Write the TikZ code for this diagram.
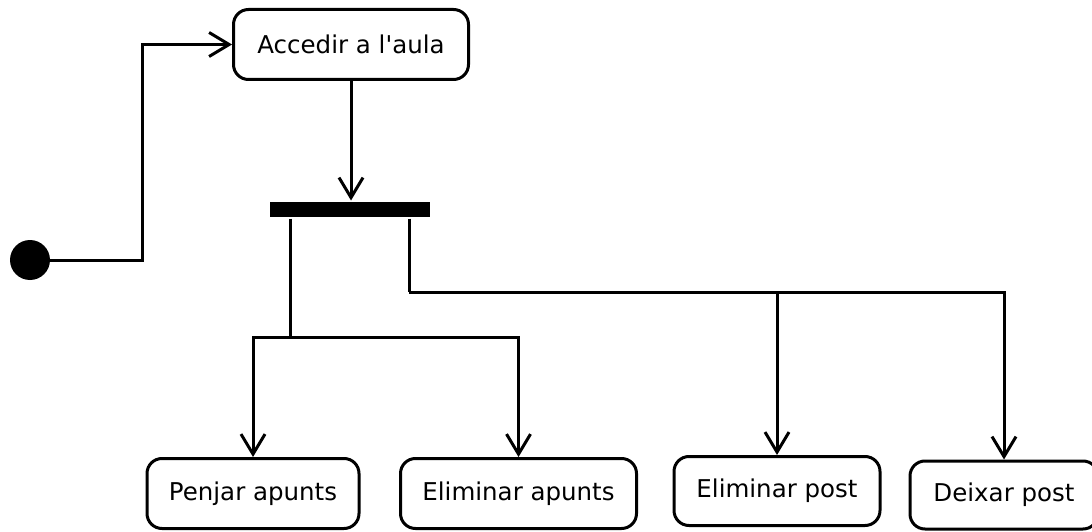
\documentclass[tikz,border=0pt]{standalone}
\usepackage{fontspec}
\setmainfont{DejaVu Sans}
\usetikzlibrary{arrows.meta}
\begin{document}
\begin{tikzpicture}[x=1pt,y=-1pt,
  line width=3pt,
  action/.style={draw, rounded corners=15pt, inner sep=0pt,
    font=\fontsize{24.5}{29}\selectfont},
  arr/.style={-{Straight Barb[length=20pt,width=24pt,line width=3pt]}},
  forkbar/.style={fill=black, draw=none, inner sep=0pt, minimum width=160pt, minimum height=15pt}]
  \useasboundingbox (0,0) rectangle (1092,532);

  % initial state
  \node[circle, fill=black, inner sep=0pt, minimum size=40pt] (init) at (30,260) {};

  % actions
  \node[action, minimum width=235pt, minimum height=70pt] (acc) at (351,44.5) {Accedir a l\textquotesingle aula};
  \node[action, minimum width=212pt, minimum height=70pt] (pa) at (253,493.5) {Penjar apunts};
  \node[action, minimum width=236pt, minimum height=70pt] (ea) at (518.5,493.5) {Eliminar apunts};
  \node[action, minimum width=206pt, minimum height=69pt] (ep) at (777,491) {Eliminar post};
  \node[action, minimum width=188pt, minimum height=68pt] (dp) at (1004,495) {Deixar post};

  % fork bar
  \node[forkbar] (bar) at (350,209.5) {};

  % junction points
  \coordinate (c1) at (142,260);
  \coordinate (j1) at (290,337);
  \coordinate (j2) at (409,292);

  % flows
  \draw[arr] (init.center) -- (c1) |- (acc.west);
  \draw[arr] (acc.south) -- (acc.south |- bar.north);
  \draw (bar.south -| j1) -- (j1);
  \draw[arr] (j1) -| (pa.north);
  \draw[arr] (j1) -| (ea.north);
  \draw (bar.south -| j2) -- (j2);
  \draw[arr] (j2) -| (ep.north);
  \draw[arr] (j2) -| (dp.north);
\end{tikzpicture}
\end{document}
